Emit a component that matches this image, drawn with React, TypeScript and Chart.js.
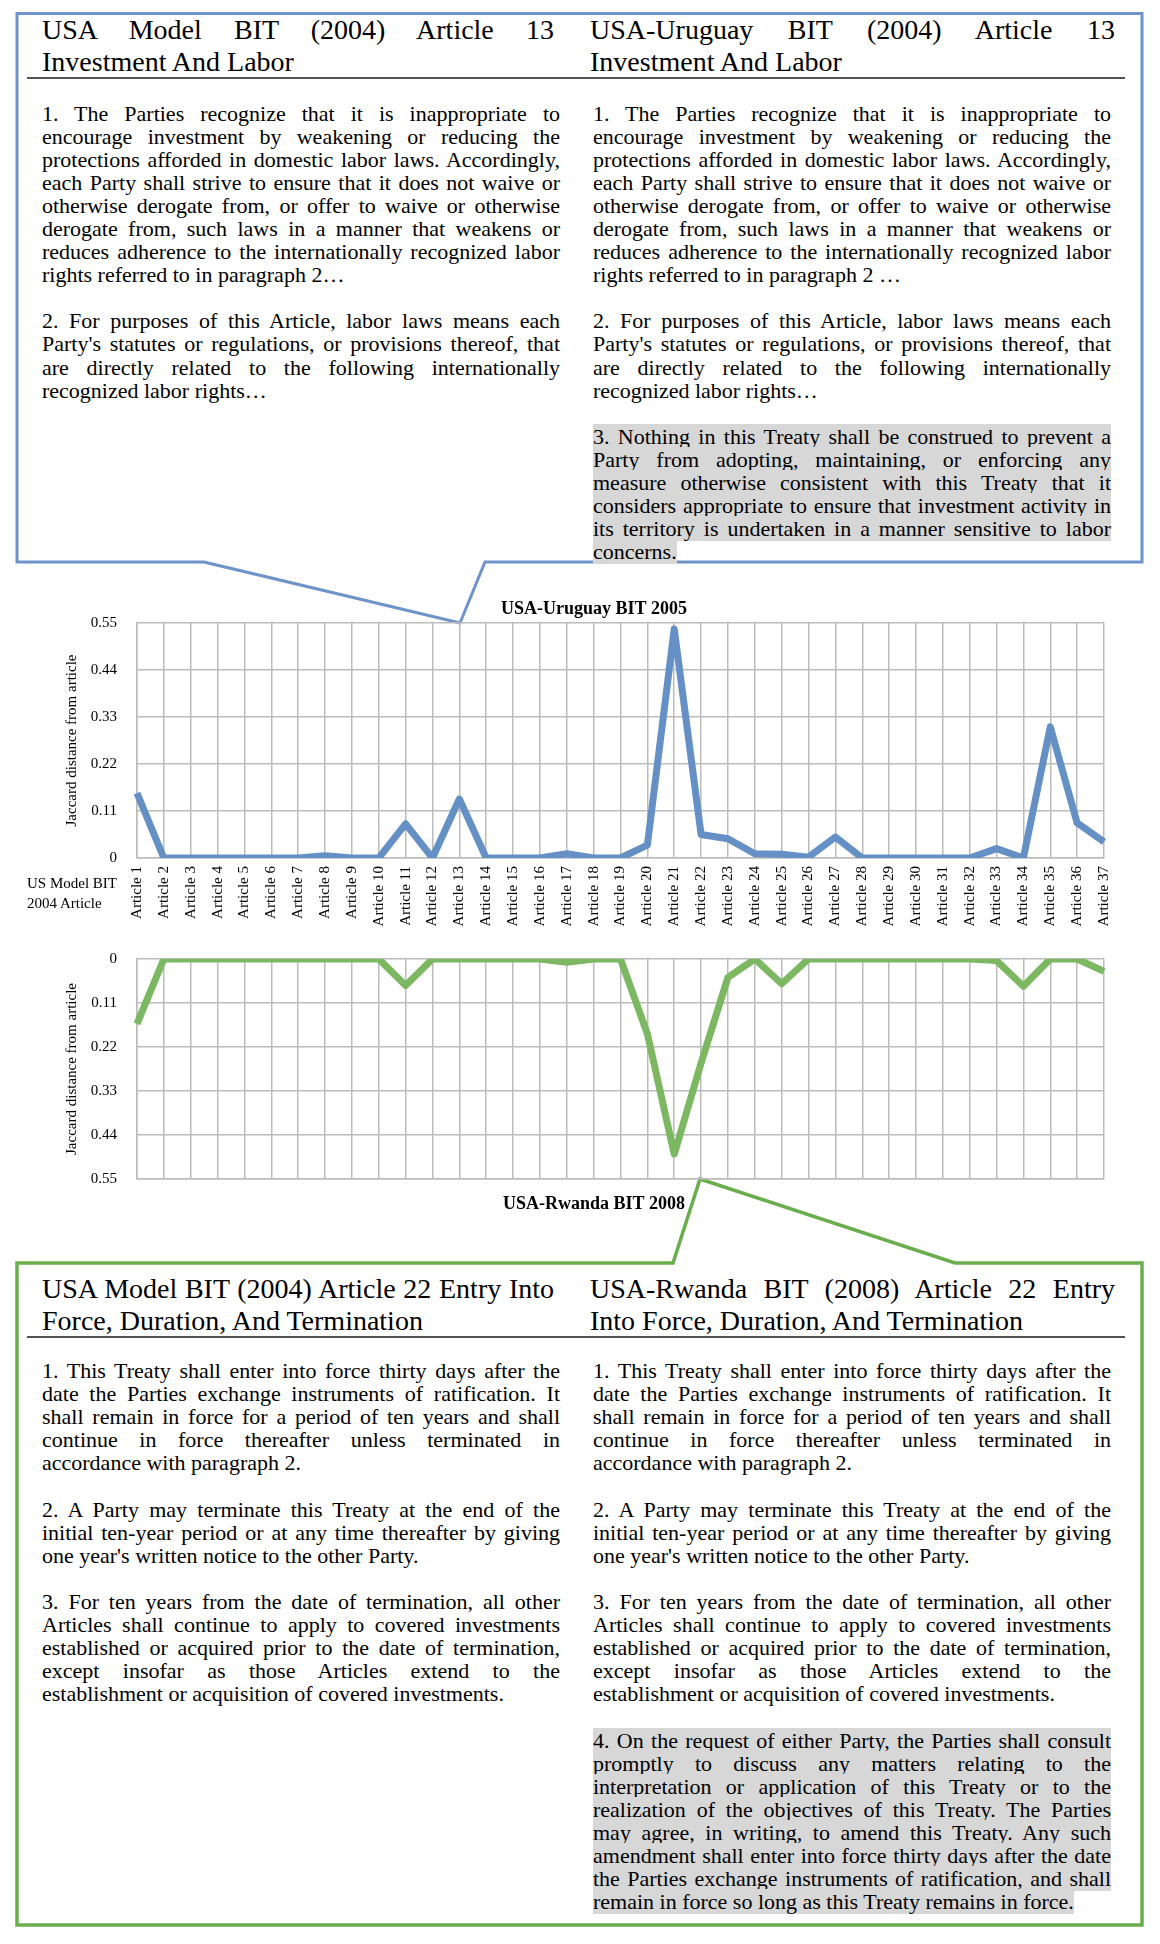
import React, { useEffect, useRef } from 'react';
import { Chart, registerables } from 'chart.js';

Chart.register(...registerables);

const articles = [
  'Article 1', 'Article 2', 'Article 3', 'Article 4', 'Article 5', 'Article 6', 'Article 7',
  'Article 8', 'Article 9', 'Article 10', 'Article 11', 'Article 12', 'Article 13', 'Article 14',
  'Article 15', 'Article 16', 'Article 17', 'Article 18', 'Article 19', 'Article 20', 'Article 21',
  'Article 22', 'Article 23', 'Article 24', 'Article 25', 'Article 26', 'Article 27', 'Article 28',
  'Article 29', 'Article 30', 'Article 31', 'Article 32', 'Article 33', 'Article 34', 'Article 35',
  'Article 36', 'Article 37',
];

const uruguayDistance = [
  0.152, 0, 0, 0, 0, 0, 0, 0.005, 0, 0, 0.08, 0, 0.138, 0, 0, 0, 0.01, 0, 0, 0.03, 0.536,
  0.055, 0.045, 0.01, 0.009, 0.002, 0.049, 0, 0, 0, 0, 0, 0.022, 0, 0.307, 0.082, 0.038,
];

const rwandaDistance = [
  0.162, 0, 0, 0, 0, 0, 0, 0, 0, 0, 0.066, 0, 0, 0, 0, 0, 0.008, 0, 0, 0.187, 0.488,
  0.26, 0.046, 0, 0.062, 0, 0, 0, 0, 0, 0, 0, 0.004, 0.068, 0, 0, 0.031,
];

const yTickValues = [0, 0.11, 0.22, 0.33, 0.44, 0.55];
const yTickLabels = ['0', '0.11', '0.22', '0.33', '0.44', '0.55'];

const topChartTitle = 'USA-Uruguay BIT 2005';
const bottomChartTitle = 'USA-Rwanda BIT 2008';
const yAxisTitle = 'Jaccard distance from article';

const FONT = "'Liberation Serif', 'Times New Roman', Times, serif";
const GRID = '#bbbbbb';
const BLUE_LINE = '#6490c5';
const GREEN_LINE = '#7cb862';
const BLUE_BOX = '#6e92ca';
const GREEN_BOX = '#69ad4d';

function yScale(reverse: boolean) {
  return {
    type: 'linear',
    position: 'left',
    min: 0,
    max: 0.55,
    reverse,
    afterBuildTicks: (s: any) => {
      s.ticks = yTickValues.map((v) => ({ value: v }));
    },
    afterFit: (s: any) => {
      s.width = 109;
    },
    grid: { color: GRID, lineWidth: 1.5, drawTicks: false },
    border: { color: GRID, width: 1.5 },
    ticks: {
      padding: 20,
      color: '#000',
      font: { family: FONT, size: 15 },
      callback: (_v: any, i: number) => yTickLabels[i],
    },
    title: {
      display: true,
      text: yAxisTitle,
      color: '#000',
      font: { family: FONT, size: 15, lineHeight: '18px' },
      padding: { top: 35, bottom: 0 },
    },
  };
}

function LineChart(props: {
  top: number;
  height: number;
  data: number[];
  color: string;
  title: string;
  bottomPanel: boolean;
}) {
  const ref = useRef<HTMLCanvasElement | null>(null);
  useEffect(() => {
    if (!ref.current) return;
    const bottomPanel = props.bottomPanel;
    const chart = new Chart(ref.current, {
      type: 'line',
      data: {
        labels: articles,
        datasets: [
          {
            label: props.title,
            data: props.data,
            borderColor: props.color,
            backgroundColor: props.color,
            borderWidth: 7,
            pointRadius: 0,
            pointHoverRadius: 0,
            tension: 0,
            fill: false,
            borderJoinStyle: 'round',
            borderCapStyle: 'butt',
            yAxisID: 'y',
          },
        ],
      },
      options: {
        animation: false,
        responsive: false,
        maintainAspectRatio: false,
        events: [],
        layout: { padding: { left: 0, right: 0, top: bottomPanel ? 13 : 0, bottom: 0 } },
        plugins: {
          legend: { display: false },
          tooltip: { enabled: false },
          title: {
            display: true,
            text: props.title,
            position: bottomPanel ? 'bottom' : 'top',
            color: '#000',
            font: { family: FONT, size: 18, weight: 'bold', lineHeight: '20px' },
            padding: bottomPanel ? { top: 15, bottom: 3 } : { top: 9, bottom: 4 },
          },
        },
        scales: {
          x: {
            type: 'category',
            offset: false,
            afterFit: (s: any) => {
              s.height = bottomPanel ? 0 : 82;
            },
            grid: { color: GRID, lineWidth: 1.5, drawTicks: false },
            border: { color: GRID, width: 1.5 },
            ticks: {
              display: !bottomPanel,
              autoSkip: false,
              maxRotation: 90,
              minRotation: 90,
              padding: 8,
              color: '#000',
              font: { family: FONT, size: 15 },
            },
          },
          y: yScale(bottomPanel) as any,
          spacer: {
            type: 'linear',
            position: 'right',
            display: true,
            grid: { display: false, drawTicks: false },
            border: { display: false },
            ticks: { display: false },
            afterFit: (s: any) => {
              s.width = 56;
            },
          },
        },
      } as any,
    });
    return () => chart.destroy();
  }, []);
  return (
    <canvas
      ref={ref}
      width={1132}
      height={props.height}
      style={{ position: 'absolute', left: 28, top: props.top, width: 1132, height: props.height, zIndex: 2 }}
    />
  );
}

const bodyStyle: React.CSSProperties = {
  position: 'absolute',
  fontFamily: FONT,
  fontSize: 22,
  lineHeight: '23.1px',
  textAlign: 'justify',
  color: '#000',
  zIndex: 3,
};

const headStyle: React.CSSProperties = {
  position: 'absolute',
  fontFamily: FONT,
  fontSize: 28,
  lineHeight: '32px',
  textAlign: 'justify',
  color: '#000',
  zIndex: 3,
};

const pStyle: React.CSSProperties = { margin: '0 0 23.1px 0' };
const hl: React.CSSProperties = { background: '#d7d7d7' };

const LEFT_X = 42;
const LEFT_W = 518;
const LEFT_HEAD_W = 512;
const RIGHT_X = 593;
const RIGHT_W = 518;
const RIGHT_HEAD_X = 590;
const RIGHT_HEAD_W = 525;

const art13p1 =
  'The Parties recognize that it is inappropriate to encourage investment by weakening or reducing the protections afforded in domestic labor laws. Accordingly, each Party shall strive to ensure that it does not waive or otherwise derogate from, or offer to waive or otherwise derogate from, such laws in a manner that weakens or reduces adherence to the internationally recognized labor rights referred to in paragraph 2';
const art13p2 =
  "2. For purposes of this Article, labor laws means each Party's statutes or regulations, or provisions thereof, that are directly related to the following internationally recognized labor rights…";
const art13p3 =
  '3. Nothing in this Treaty shall be construed to prevent a Party from adopting, maintaining, or enforcing any measure otherwise consistent with this Treaty that it considers appropriate to ensure that investment activity in its territory is undertaken in a manner sensitive to labor concerns.';

const art22p1 =
  '1. This Treaty shall enter into force thirty days after the date the Parties exchange instruments of ratification. It shall remain in force for a period of ten years and shall continue in force thereafter unless terminated in accordance with paragraph 2.';
const art22p2 =
  "2. A Party may terminate this Treaty at the end of the initial ten-year period or at any time thereafter by giving one year's written notice to the other Party.";
const art22p3 =
  '3. For ten years from the date of termination, all other Articles shall continue to apply to covered investments established or acquired prior to the date of termination, except insofar as those Articles extend to the establishment or acquisition of covered investments.';
const art22p4 =
  "4. On the request of either Party, the Parties shall consult promptly to discuss any matters relating to the interpretation or application of this Treaty or to the realization of the objectives of this Treaty. The Parties may agree, in writing, to amend this Treaty. Any such amendment shall enter into force thirty days after the date the Parties exchange instruments of ratification, and shall remain in force so long as this Treaty remains in force.";

export default function App() {
  return (
    <div style={{ position: 'absolute', left: 0, top: 0, width: 1160, height: 1944, background: '#fff', overflow: 'hidden' }}>
      <svg
        width={1160}
        height={1944}
        style={{ position: 'absolute', left: 0, top: 0, zIndex: 1 }}
      >
        <path
          d="M204,562 L17,562 L17,13.5 L1142,13.5 L1142,562 L485,562 L460,623 Z"
          fill="none"
          stroke={BLUE_BOX}
          strokeWidth={3}
          strokeLinejoin="miter"
        />
        <path
          d="M673,1263 L17,1263 L17,1925 L1142,1925 L1142,1263 L955,1263 L700,1179 Z"
          fill="none"
          stroke={GREEN_BOX}
          strokeWidth={3.5}
          strokeLinejoin="miter"
        />
        <line x1={27} y1={78} x2={1125} y2={78} stroke="#1a1a1a" strokeWidth={1.5} />
        <line x1={27} y1={1337} x2={1125} y2={1337} stroke="#1a1a1a" strokeWidth={1.5} />
      </svg>

      {/* top box */}
      <div style={{ ...headStyle, left: LEFT_X, top: 14, width: LEFT_HEAD_W }}>
        USA Model BIT (2004) Article 13 Investment And Labor
      </div>
      <div style={{ ...headStyle, left: RIGHT_HEAD_X, top: 14, width: RIGHT_HEAD_W }}>
        USA-Uruguay BIT (2004) Article 13 Investment And Labor
      </div>
      <div style={{ ...bodyStyle, left: LEFT_X, top: 101.5, width: LEFT_W }}>
        <p style={pStyle}>{'1. ' + art13p1 + '…'}</p>
        <p style={pStyle}>{art13p2}</p>
      </div>
      <div style={{ ...bodyStyle, left: RIGHT_X, top: 101.5, width: RIGHT_W }}>
        <p style={pStyle}>{'1. ' + art13p1 + ' …'}</p>
        <p style={pStyle}>{art13p2}</p>
        <p style={pStyle}>
          <span style={hl}>{art13p3}</span>
        </p>
      </div>

      {/* charts */}
      <LineChart top={590} height={350} data={uruguayDistance} color={BLUE_LINE} title={topChartTitle} bottomPanel={false} />
      <div
        style={{
          position: 'absolute',
          left: 27,
          top: 873,
          fontFamily: FONT,
          fontSize: 15,
          lineHeight: '20px',
          color: '#000',
          zIndex: 3,
          whiteSpace: 'nowrap',
        }}
      >
        US Model BIT
        <br />
        2004 Article
      </div>
      <LineChart top={930} height={287} data={rwandaDistance} color={GREEN_LINE} title={bottomChartTitle} bottomPanel={true} />

      {/* bottom box */}
      <div style={{ ...headStyle, left: LEFT_X, top: 1273, width: LEFT_HEAD_W }}>
        USA Model BIT (2004) Article 22 Entry Into Force, Duration, And Termination
      </div>
      <div style={{ ...headStyle, left: RIGHT_HEAD_X, top: 1273, width: RIGHT_HEAD_W }}>
        USA-Rwanda BIT (2008) Article 22 Entry Into Force, Duration, And Termination
      </div>
      <div style={{ ...bodyStyle, left: LEFT_X, top: 1359, width: LEFT_W }}>
        <p style={pStyle}>{art22p1}</p>
        <p style={pStyle}>{art22p2}</p>
        <p style={pStyle}>{art22p3}</p>
      </div>
      <div style={{ ...bodyStyle, left: RIGHT_X, top: 1359, width: RIGHT_W }}>
        <p style={pStyle}>{art22p1}</p>
        <p style={pStyle}>{art22p2}</p>
        <p style={pStyle}>{art22p3}</p>
        <p style={pStyle}>
          <span style={hl}>{art22p4}</span>
        </p>
      </div>
    </div>
  );
}
